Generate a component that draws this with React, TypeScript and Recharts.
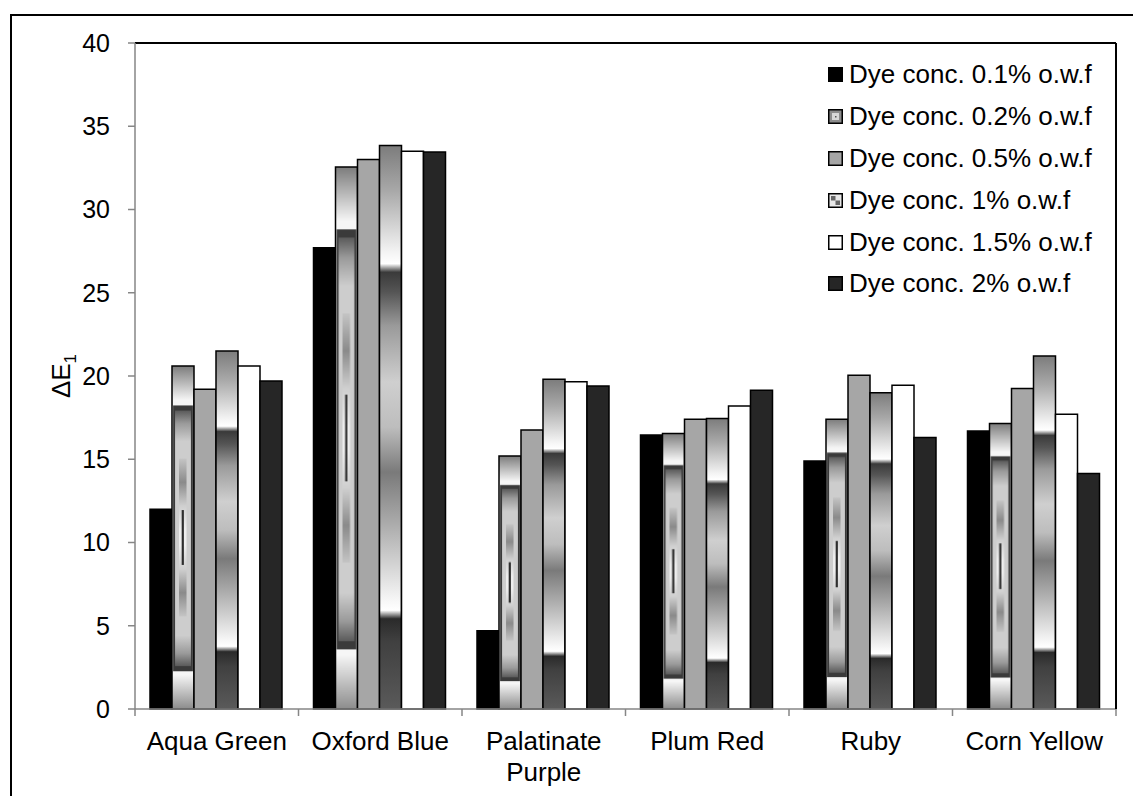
import { BarChart, Bar, XAxis, YAxis, Legend } from 'recharts';

const CATEGORIES = ['Aqua Green', 'Oxford Blue', 'Palatinate Purple', 'Plum Red', 'Ruby', 'Corn Yellow'];

const DYE_01 = [12.0, 27.7, 4.7, 16.45, 14.9, 16.7];
const DYE_02 = [20.6, 32.55, 15.2, 16.55, 17.4, 17.15];
const DYE_05 = [19.2, 33.0, 16.75, 17.4, 20.05, 19.25];
const DYE_1 = [21.5, 33.85, 19.8, 17.45, 19.0, 21.2];
const DYE_15 = [20.6, 33.5, 19.65, 18.2, 19.45, 17.7];
const DYE_2 = [19.7, 33.45, 19.4, 19.15, 16.3, 14.15];

const SERIES_NAMES = [
  'Dye conc. 0.1% o.w.f',
  'Dye conc. 0.2% o.w.f',
  'Dye conc. 0.5% o.w.f',
  'Dye conc. 1% o.w.f',
  'Dye conc. 1.5% o.w.f',
  'Dye conc. 2% o.w.f',
];

const Y_TICKS = [0, 5, 10, 15, 20, 25, 30, 35, 40];

const FONT = '"Liberation Sans", Arial, sans-serif';
const AXIS_GRAY = '#868686';

const data = CATEGORIES.map((name, i) => ({
  name,
  d01: DYE_01[i],
  d02: DYE_02[i],
  d05: DYE_05[i],
  d1: DYE_1[i],
  d15: DYE_15[i],
  d2: DYE_2[i],
}));

const SERIES = [
  { key: 'd01', fill: '#000000' },
  { key: 'd02', fill: 'url(#p02)' },
  { key: 'd05', fill: '#a6a6a6' },
  { key: 'd1', fill: 'url(#g10)' },
  { key: 'd15', fill: '#ffffff' },
  { key: 'd2', fill: '#262626' },
];

function CategoryTick(props: any) {
  const { x, y, payload, index } = props;
  const half = payload && payload.offset ? payload.offset : (1133 - 135 - 17) / 12;
  const words: string[] = payload.value.length > 14 ? payload.value.split(' ') : [payload.value];
  return (
    <g>
      <line x1={x - half} x2={x - half} y1={y} y2={y + 7} stroke={AXIS_GRAY} strokeWidth={1.5} />
      {index === CATEGORIES.length - 1 && (
        <line x1={x + half} x2={x + half} y1={y} y2={y + 7} stroke={AXIS_GRAY} strokeWidth={1.5} />
      )}
      <text x={x} y={y + 41} textAnchor="middle" fontFamily={FONT} fontSize={26} fill="#000">
        {words.map((w, i) => (
          <tspan key={i} x={x} dy={i === 0 ? 0 : 31}>
            {w}
          </tspan>
        ))}
      </text>
    </g>
  );
}

function YLabel(props: any) {
  const vb = props.viewBox || { x: 0, y: 43, width: 135, height: 666 };
  const cx = vb.x + 70;
  const cy = vb.y + vb.height / 2;
  return (
    <text
      x={cx}
      y={cy}
      transform={`rotate(-90 ${cx} ${cy})`}
      textAnchor="middle"
      fontFamily={FONT}
      fontSize={26}
      fill="#000"
    >
      ΔE
      <tspan fontSize={17} dy={6}>
        1
      </tspan>
    </text>
  );
}

function LegendIcon({ index }: { index: number }) {
  const base = { stroke: '#000', strokeWidth: 1.5 };
  return (
    <svg width={15} height={15} style={{ marginRight: 6, flexShrink: 0 }}>
      {index === 0 && <rect x={0.75} y={0.75} width={13.5} height={13.5} fill="#000" {...base} />}
      {index === 1 && (
        <g>
          <rect x={0.75} y={0.75} width={13.5} height={13.5} fill="#8c8c8c" {...base} />
          <rect x={4} y={4} width={7} height={7} fill="#d8d8d8" />
          <rect x={7} y={7} width={1.5} height={1.5} fill="#555" />
        </g>
      )}
      {index === 2 && <rect x={0.75} y={0.75} width={13.5} height={13.5} fill="#a6a6a6" {...base} />}
      {index === 3 && (
        <g>
          <rect x={0.75} y={0.75} width={13.5} height={13.5} fill="#e8e8e8" {...base} />
          <rect x={3} y={3} width={4.5} height={4.5} fill="#666" />
          <rect x={7.5} y={7.5} width={4.5} height={4.5} fill="#666" />
        </g>
      )}
      {index === 4 && <rect x={0.75} y={0.75} width={13.5} height={13.5} fill="#fff" {...base} />}
      {index === 5 && <rect x={0.75} y={0.75} width={13.5} height={13.5} fill="#262626" {...base} />}
    </svg>
  );
}

function LegendBox() {
  return (
    <div style={{ fontFamily: FONT, fontSize: 26, color: '#000' }}>
      {SERIES_NAMES.map((name, i) => (
        <div key={name} style={{ height: 41.8, display: 'flex', alignItems: 'center', whiteSpace: 'nowrap' }}>
          <LegendIcon index={i} />
          <span>{name}</span>
        </div>
      ))}
    </div>
  );
}

export default function App() {
  return (
    <div style={{ position: 'fixed', left: 0, top: 0, width: 1133, height: 796, overflow: 'hidden', background: '#fff' }}>
      <div
        style={{
          position: 'absolute',
          left: 10,
          top: 14,
          width: 1160,
          height: 820,
          border: '2px solid #000',
          boxSizing: 'border-box',
        }}
      />
      <div style={{ position: 'absolute', left: 0, top: 0 }}>
        <BarChart
          width={1133}
          height={796}
          data={data}
          margin={{ top: 13, right: 0, bottom: 7, left: 0 }}
          barCategoryGap={15}
          barGap={0}
        >
          <defs>
            <linearGradient id="g10" x1="0" y1="0" x2="0" y2="1">
              <stop offset="0" stopColor="#7c7c7c" />
              <stop offset="0.08" stopColor="#a8a8a8" />
              <stop offset="0.19" stopColor="#f4f4f4" />
              <stop offset="0.21" stopColor="#ffffff" />
              <stop offset="0.225" stopColor="#3a3a3a" />
              <stop offset="0.26" stopColor="#555555" />
              <stop offset="0.32" stopColor="#9a9a9a" />
              <stop offset="0.42" stopColor="#cfcfcf" />
              <stop offset="0.5" stopColor="#bdbdbd" />
              <stop offset="0.58" stopColor="#7a7a7a" />
              <stop offset="0.66" stopColor="#a5a5a5" />
              <stop offset="0.76" stopColor="#dcdcdc" />
              <stop offset="0.81" stopColor="#f8f8f8" />
              <stop offset="0.825" stopColor="#ffffff" />
              <stop offset="0.84" stopColor="#2a2a2a" />
              <stop offset="0.88" stopColor="#404040" />
              <stop offset="1" stopColor="#5a5a5a" />
            </linearGradient>
            <linearGradient id="g02o" x1="0" y1="0" x2="0" y2="1">
              <stop offset="0" stopColor="#7c7c7c" />
              <stop offset="0.1" stopColor="#f6f6f6" />
              <stop offset="0.9" stopColor="#f6f6f6" />
              <stop offset="1" stopColor="#8c8c8c" />
            </linearGradient>
            <linearGradient id="g02i" x1="0" y1="0" x2="0" y2="1">
              <stop offset="0" stopColor="#5a5a5a" />
              <stop offset="0.05" stopColor="#9a9a9a" />
              <stop offset="0.12" stopColor="#cdcdcd" />
              <stop offset="0.88" stopColor="#cdcdcd" />
              <stop offset="0.95" stopColor="#9a9a9a" />
              <stop offset="1" stopColor="#5a5a5a" />
            </linearGradient>
            <linearGradient id="g02s" x1="0" y1="0" x2="0" y2="1">
              <stop offset="0" stopColor="#c4c4c4" />
              <stop offset="0.15" stopColor="#8a8a8a" />
              <stop offset="0.3" stopColor="#cfcfcf" />
              <stop offset="0.45" stopColor="#eeeeee" />
              <stop offset="0.55" stopColor="#eeeeee" />
              <stop offset="0.7" stopColor="#cfcfcf" />
              <stop offset="0.85" stopColor="#8a8a8a" />
              <stop offset="1" stopColor="#c4c4c4" />
            </linearGradient>
            <pattern id="p02" patternUnits="objectBoundingBox" patternContentUnits="objectBoundingBox" width="1" height="1">
              <rect x="0" y="0" width="1" height="1" fill="url(#g02o)" />
              <rect x="0.05" y="0.115" width="0.9" height="0.775" fill="#3a3a3a" />
              <rect x="0.14" y="0.13" width="0.72" height="0.745" fill="url(#g02i)" />
              <rect x="0.32" y="0.27" width="0.34" height="0.46" fill="url(#g02s)" />
              <rect x="0.44" y="0.42" width="0.1" height="0.16" fill="#2e2e2e" />
            </pattern>
          </defs>
          <XAxis
            dataKey="name"
            height={80}
            interval={0}
            tickLine={false}
            tickSize={0}
            tickMargin={0}
            axisLine={{ stroke: AXIS_GRAY, strokeWidth: 1.5 }}
            tick={<CategoryTick />}
          />
          <XAxis
            xAxisId="top"
            orientation="top"
            dataKey="name"
            height={30}
            tick={false}
            tickLine={false}
            axisLine={{ stroke: '#000', strokeWidth: 2 }}
          />
          <YAxis
            width={135}
            domain={[0, 40]}
            ticks={Y_TICKS}
            interval={0}
            tickSize={7}
            tickMargin={18}
            tickLine={{ stroke: AXIS_GRAY, strokeWidth: 1.5 }}
            axisLine={{ stroke: AXIS_GRAY, strokeWidth: 1.5 }}
            tick={{ fontFamily: FONT, fontSize: 25, fill: '#000' }}
            label={<YLabel />}
          />
          <YAxis
            yAxisId="right"
            orientation="right"
            width={17}
            domain={[0, 40]}
            tick={false}
            tickLine={false}
            axisLine={{ stroke: '#000', strokeWidth: 2 }}
          />
          <Legend
            layout="vertical"
            align="center"
            verticalAlign="middle"
            content={<LegendBox />}
            wrapperStyle={{ top: 54, left: 828, width: 290, height: 255 }}
          />
          {SERIES.map((s, i) => (
            <Bar
              key={s.key}
              dataKey={s.key}
              name={SERIES_NAMES[i]}
              fill={s.fill}
              stroke="#000"
              strokeWidth={1.5}
              isAnimationActive={false}
            />
          ))}
        </BarChart>
      </div>
    </div>
  );
}
